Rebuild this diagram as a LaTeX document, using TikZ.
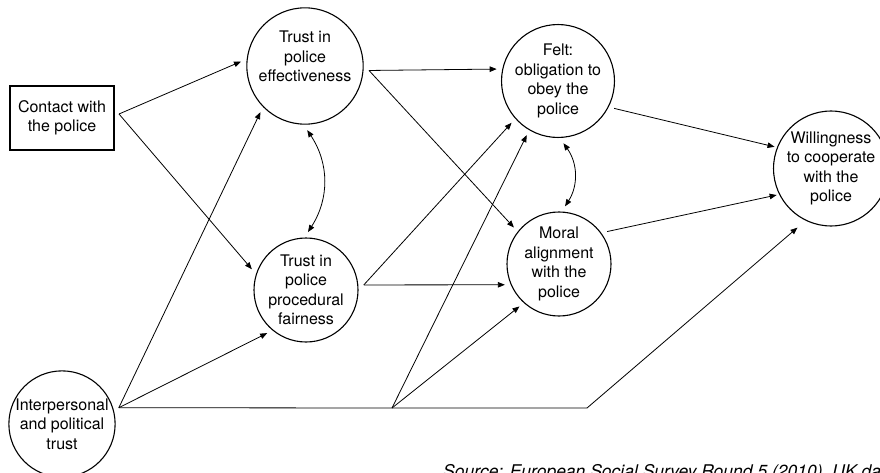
\documentclass[tikz,border=0pt]{standalone}
\usepackage{fontspec}
\setmainfont{TeX Gyre Heros}
\usetikzlibrary{arrows.meta,calc}

\begin{document}
\begin{tikzpicture}[x=1pt,y=-1pt,
  labelfont/.style={font=\fontsize{16pt}{19.5pt}\selectfont},
  construct/.style={circle,draw,line width=1.1pt,minimum size=104pt,inner sep=0pt,
    outer sep=6pt,align=center,labelfont},
  observed/.style={rectangle,draw,line width=1.1pt,minimum width=104pt,minimum height=64pt,
    inner sep=0pt,outer sep=0pt,align=center,labelfont},
  tip/.tip={Triangle[length=7pt,width=5.5pt]},
  effect/.style={line width=0.8pt,-tip},
  segment/.style={line width=0.8pt},
  covary/.style={line width=0.8pt,tip-tip}
]
\useasboundingbox (0,0) rectangle (880,473);

% measured and latent variables
\node[observed]  (contact) at (62,118)  {Contact with\\the police};
\node[construct] (eff)     at (305,66)  {Trust in\\police\\effectiveness\\\mbox{}};
\node[construct] (proc)    at (306,290) {Trust in\\police\\procedural\\fairness};
\node[construct] (felt)    at (558,81)  {Felt:\\obligation to\\obey the\\police};
\node[construct] (moral)   at (559,264) {Moral\\alignment\\with the\\police};
\node[construct,minimum size=102pt,outer sep=3pt] (will) at (831,168.5)
  {Willingness\\to cooperate\\with the\\police};
\node[construct] (inter)   at (62,424)  {Interpersonal\\and political\\trust};

% branching points of the paths
\coordinate (cout)   at ($(contact.east)+(5,-4)$);
\coordinate (effout) at (eff.356);
\coordinate (procout) at (proc.5);
\coordinate (ipout)  at (inter.16);
\coordinate (ipmid)  at (392,408);
\coordinate (ipbend) at (587,408);

% direct effects
\draw[effect] (cout) -- (eff.176);
\draw[effect] (cout) -- (proc.159);
\draw[effect] (ipout) -- (eff.226);
\draw[effect] (ipout) -- (proc.228);
\draw[segment] (ipout) -- (ipmid) -- (ipbend);
\draw[effect,shorten >=8pt] (ipbend) -- (will.243);
\draw[effect] (ipmid) -- (felt.240);
\draw[effect] (ipmid) -- (moral.227);
\draw[effect] (effout) -- (felt.169);
\draw[effect] (effout) -- (moral.141);
\draw[effect] (procout) -- (felt.222);
\draw[effect] (procout) -- (moral.201);
\draw[effect] (felt.334) -- (will.159);
\draw[effect] (moral.34) -- (will.206);

% correlated constructs
\draw[covary] (eff.272) to[bend left=33] (proc.88);
\draw[covary] (felt.275) to[bend left=34] (moral.84);

% data source
\node[anchor=base west,inner sep=0pt,font=\fontsize{17.5pt}{20pt}\selectfont\itshape] (source)
  at (443,477) {Source: European Social Survey Round 5 (2010), UK data};
\end{tikzpicture}
\end{document}
